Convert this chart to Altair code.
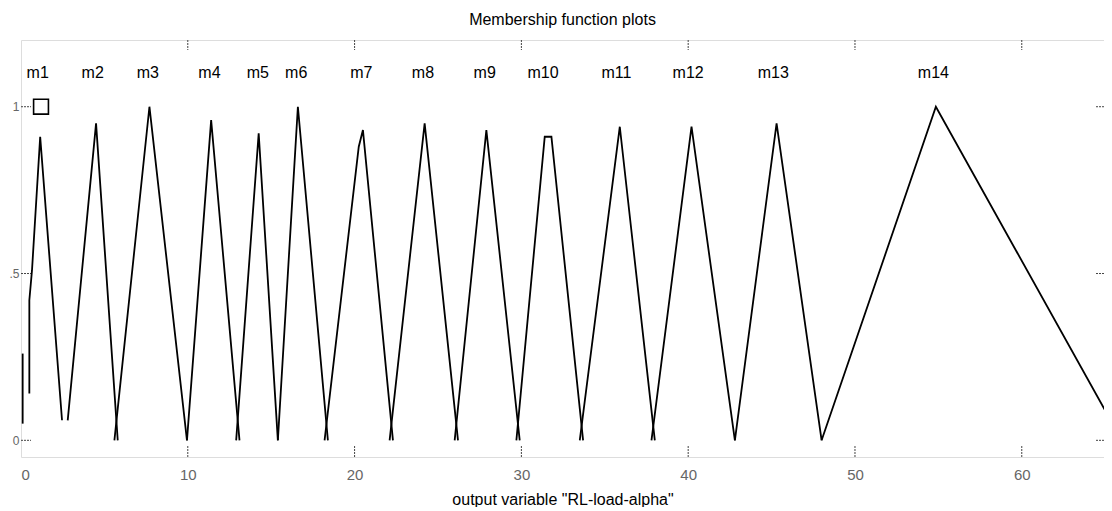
import altair as alt
import pandas as pd

FONT = "Liberation Sans"

# ---- membership function vertices (x = output variable, y = membership) ----
m1_x = [0.5, 0.5, 0.66, 1.15, 2.46]
m1_y = [0.14, 0.42, 0.51, 0.91, 0.06]
m1b_x = [0.1, 0.1]
m1b_y = [0.05, 0.26]
m2_x = [2.8, 4.5, 5.8]
m2_y = [0.06, 0.95, 0.0]
m3_x = [5.6, 7.7, 9.95]
m3_y = [0.0, 1.0, 0.0]
m4_x = [9.95, 11.4, 13.1]
m4_y = [0.0, 0.96, 0.0]
m5_x = [12.9, 14.25, 15.4]
m5_y = [0.0, 0.92, 0.0]
m6_x = [15.4, 16.6, 18.4]
m6_y = [0.0, 1.0, 0.0]
m7_x = [18.2, 20.25, 20.5, 22.3]
m7_y = [0.0, 0.88, 0.93, 0.0]
m8_x = [22.1, 24.2, 26.2]
m8_y = [0.0, 0.95, 0.0]
m9_x = [26.0, 27.9, 29.9]
m9_y = [0.0, 0.93, 0.0]
m10_x = [29.7, 31.4, 31.8, 33.7]
m10_y = [0.0, 0.91, 0.91, 0.0]
m11_x = [33.5, 35.9, 38.0]
m11_y = [0.0, 0.94, 0.0]
m12_x = [37.8, 40.2, 42.8]
m12_y = [0.0, 0.94, 0.0]
m13_x = [42.8, 45.3, 48.0]
m13_y = [0.0, 0.95, 0.0]
m14_x = [48.0, 54.85, 66.0]
m14_y = [0.0, 1.0, 0.0]

# ---- labels ----
mf_labels = ["m1", "m2", "m3", "m4", "m5", "m6", "m7", "m8", "m9", "m10",
             "m11", "m12", "m13", "m14"]
label_x = [1.0, 4.3, 7.6, 11.3, 14.2, 16.5, 20.4, 24.1, 27.8, 31.3,
           35.7, 40.0, 45.1, 54.7]
label_y = 1.1

x_ticks = [0, 10, 20, 30, 40, 50, 60]
y_ticks = [0, 0.5, 1]
x_domain = [0, 64.93]
y_domain = [-0.05, 1.2]

marker_x = [1.2]
marker_y = [1.0]

W, H = 1083, 417

segments = [
    ("m1", m1_x, m1_y), ("m1b", m1b_x, m1b_y), ("m2", m2_x, m2_y),
    ("m3", m3_x, m3_y), ("m4", m4_x, m4_y), ("m5", m5_x, m5_y),
    ("m6", m6_x, m6_y), ("m7", m7_x, m7_y), ("m8", m8_x, m8_y),
    ("m9", m9_x, m9_y), ("m10", m10_x, m10_y), ("m11", m11_x, m11_y),
    ("m12", m12_x, m12_y), ("m13", m13_x, m13_y), ("m14", m14_x, m14_y),
]
rows = []
for seg, xs_, ys_ in segments:
    for i, (xv, yv) in enumerate(zip(xs_, ys_)):
        rows.append({"seg": seg, "i": i, "x": xv, "y": yv})
df = pd.DataFrame(rows)

xs = alt.Scale(domain=x_domain, nice=False, zero=False)
ys = alt.Scale(domain=y_domain, nice=False, zero=False)

x_axis = alt.Axis(values=x_ticks, grid=False, ticks=False, domain=False,
                  labelColor="#666", labelFontSize=15, labelFont=FONT,
                  labelPadding=10, title='output variable "RL-load-alpha"',
                  titleFont=FONT, titleFontSize=16, titleFontWeight="normal",
                  titleColor="#000", titlePadding=9)
y_axis = alt.Axis(values=y_ticks, grid=False, ticks=False, domain=False,
                  labelColor="#666", labelFontSize=12, labelFont=FONT,
                  labelPadding=2, title=None,
                  labelExpr="datum.value == 0.5 ? '.5' : format(datum.value, 'd')")

lines = alt.Chart(df).mark_line(color="black", strokeWidth=1.8, clip=True).encode(
    x=alt.X("x:Q", scale=xs, axis=x_axis),
    y=alt.Y("y:Q", scale=ys, axis=y_axis),
    detail="seg:N",
    order="i:Q",
)

lab_df = pd.DataFrame({"name": mf_labels, "x": label_x, "y": [label_y] * len(mf_labels)})
labels = alt.Chart(lab_df).mark_text(font=FONT, fontSize=16, color="black",
                                      baseline="middle", align="center").encode(
    x=alt.X("x:Q", scale=xs), y=alt.Y("y:Q", scale=ys), text="name:N")

mk_df = pd.DataFrame({"x": marker_x, "y": marker_y})
marker = alt.Chart(mk_df).mark_point(shape="square", filled=False, size=220,
                                     color="black", strokeWidth=1.6, opacity=1).encode(
    x=alt.X("x:Q", scale=xs), y=alt.Y("y:Q", scale=ys))

xt_df = pd.DataFrame({"x": x_ticks[1:]})
yt_df = pd.DataFrame({"y": y_ticks})
tick_style = dict(color="#444", strokeWidth=1, strokeDash=[2, 1])
top_ticks = alt.Chart(xt_df).mark_rule(**tick_style).encode(
    x=alt.X("x:Q", scale=xs), y=alt.value(0), y2=alt.value(10))
bot_ticks = alt.Chart(xt_df).mark_rule(**tick_style).encode(
    x=alt.X("x:Q", scale=xs), y=alt.value(H), y2=alt.value(H - 12))
left_ticks = alt.Chart(yt_df).mark_rule(**tick_style).encode(
    y=alt.Y("y:Q", scale=ys), x=alt.value(0), x2=alt.value(10))
right_ticks = alt.Chart(yt_df).mark_rule(**tick_style).encode(
    y=alt.Y("y:Q", scale=ys), x=alt.value(W), x2=alt.value(W - 8))

chart = alt.layer(top_ticks, bot_ticks, left_ticks, right_ticks, lines, labels, marker).properties(
    width=W, height=H,
    title=alt.TitleParams("Membership function plots", font=FONT, fontSize=16,
                          fontWeight="normal", color="#000", anchor="middle", offset=12),
    autosize=alt.AutoSizeParams(type="none"),
    padding={"left": 13, "top": 32, "right": 0, "bottom": 50},
).configure_view(stroke="#333", strokeWidth=1, strokeDash=[3, 1]).configure(background="white")

chart.save("out.html", embed_options={"renderer": "svg", "actions": False})
